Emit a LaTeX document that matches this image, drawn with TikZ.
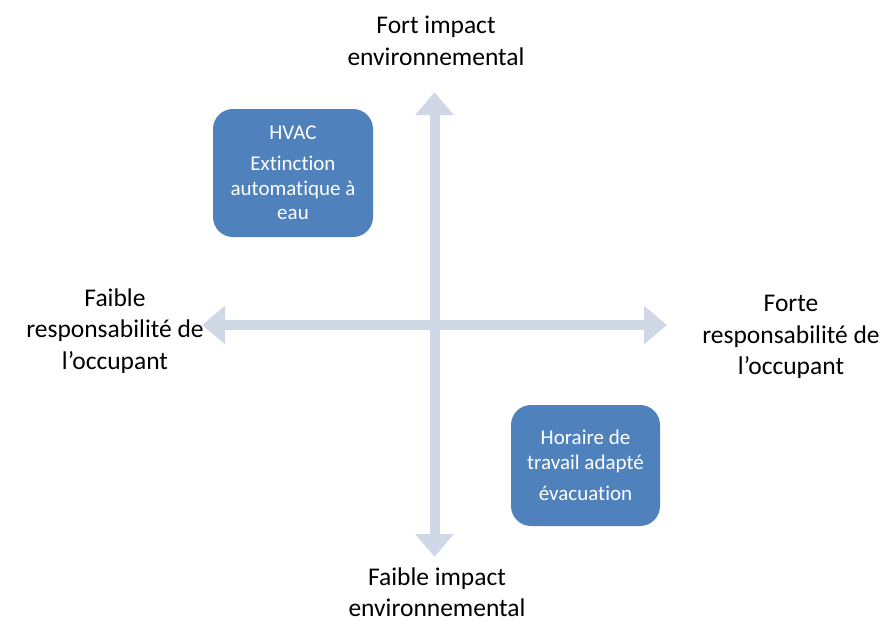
\documentclass[tikz,border=0pt]{standalone}
\usepackage{fontspec}
\setmainfont{Carlito}[Ligatures=NoCommon]
\usetikzlibrary{arrows.meta}

\begin{document}
\begin{tikzpicture}[x=1pt,y=-1pt,
  axis/.style={draw=axisgray, line width=10pt,
    {Triangle[width=37pt,length=23pt]}-{Triangle[width=37pt,length=23pt]}},
  label/.style={align=center, font=\fontsize{25.5}{31.5}\selectfont, inner sep=0pt},
  block/.style={fill=boxblue, rounded corners=20pt, minimum width=160pt,
    minimum height=128pt, text=white, align=center, inner sep=0pt,
    font=\fontsize{21}{24.5}\selectfont}]
\definecolor{axisgray}{HTML}{D0D8E8}
\definecolor{boxblue}{HTML}{4F81BD}
\useasboundingbox (0,0) rectangle (885,621);

\coordinate (north) at (434.5,92);
\coordinate (south) at (434.5,557);
\coordinate (west) at (202,325);
\coordinate (east) at (667,325);
\draw [axis] (south) -- (north);
\draw [axis] (west) -- (east);

\node [block] (hvac) at (293,173) {HVAC\\[7pt]Extinction\\automatique à\\eau};
\node [block, minimum width=149pt, minimum height=121pt] (horaire) at (585.5,465.5)
  {Horaire de\\travail adapté\\[7pt]évacuation};

\node [label] (fort) at (436,41) {Fort impact\\environnemental};
\node [label] (faible) at (437,592) {Faible impact\\environnemental};
\node [label] (occfaible) at (115,331) {Faible\\responsabilité de\\l’occupant};
\node [label] (occforte) at (791,337) {Forte\\responsabilité de\\l’occupant};
\end{tikzpicture}
\end{document}
